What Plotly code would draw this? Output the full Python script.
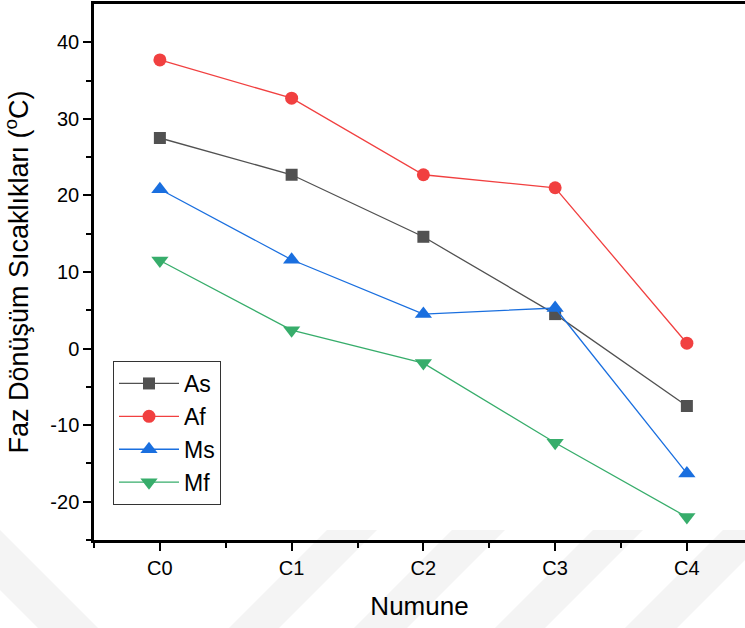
import plotly.graph_objects as go

categories = ["C0", "C1", "C2", "C3", "C4"]
As = [27.5, 22.7, 14.6, 4.5, -7.5]
Af = [37.7, 32.7, 22.7, 21.0, 0.7]
Ms = [20.8, 11.6, 4.5, 5.3, -16.3]
Mf = [11.5, 2.4, -1.9, -12.3, -22.0]
y_ticks = [-20, -10, 0, 10, 20, 30, 40]
y_tick_text = ["-20", "-10", "0", "10", "20", "30", "40"]

series = [
    ("As", As, "#515151", "square", 12),
    ("Af", Af, "#F14040", "circle", 13),
    ("Ms", Ms, "#1A6FDF", "triangle-up", 15),
    ("Mf", Mf, "#37AD6B", "triangle-down", 15),
]

W, H = 745, 628
ML, MR, MT, MB = 94, 0, 4, 88
PW, PH = W - ML - MR, H - MT - MB

fig = go.Figure()
xidx = list(range(len(categories)))
for name, vals, color, sym, sz in series:
    fig.add_trace(go.Scatter(
        x=xidx, y=vals, name=name, mode="lines+markers",
        line=dict(color=color, width=1.3),
        marker=dict(symbol=sym, size=sz, color=color, line=dict(width=0)),
    ))

# faint watermark bands (decorative background)
def px2paper(px, py):
    return (px - ML) / PW, (H - MB - py) / PH

bands = [((-60, 0), -1), ((327, 377), 1), ((452, 505), 1), ((593, 643), 1), ((723, 775), 1)]
shapes = []
for (x0, x1), d in bands:
    ytop, ybot = 530, 650
    shift = -(ybot - ytop) * d
    pts = [(x0, ytop), (x1, ytop), (x1 + shift, ybot), (x0 + shift, ybot)]
    pp = [px2paper(a, b) for a, b in pts]
    path = "M " + " L ".join(f"{a:.4f},{b:.4f}" for a, b in pp) + " Z"
    shapes.append(dict(type="path", xref="paper", yref="paper", path=path,
                       fillcolor="#f4f4f4", line=dict(width=0), layer="below"))

fig.update_layout(
    width=W, height=H,
    margin=dict(l=ML, r=MR, t=MT, b=MB),
    paper_bgcolor="white", plot_bgcolor="rgba(0,0,0,0)",
    font=dict(family="Liberation Sans, Arial, sans-serif", color="black", size=20),
    showlegend=True,
    shapes=shapes,
    legend=dict(
        x=(113 - ML) / PW, y=(H - MB - 361) / PH, xanchor="left", yanchor="top",
        bordercolor="#333", borderwidth=1, bgcolor="white",
        font=dict(size=23), itemwidth=60, tracegroupgap=0,
    ),
)
fig.update_xaxes(
    range=[-0.5, -0.5 + PW / 131.75], tickmode="array", tickvals=xidx, ticktext=categories,
    showline=True, linecolor="black", linewidth=2.5, mirror=True,
    ticks="outside", ticklen=8, tickwidth=2, tickcolor="black",
    minor=dict(tickmode="array", tickvals=[-0.5, 0.5, 1.5, 2.5, 3.5, 4.5], ticks="outside", ticklen=5, tickwidth=2, tickcolor="black"),
    showgrid=False, zeroline=False,
    title=dict(text="Numune", font=dict(size=26), standoff=20),
    tickfont=dict(size=20),
)
fig.update_yaxes(
    range=[-25, 45], tickmode="array", tickvals=y_ticks, ticktext=y_tick_text,
    showline=True, linecolor="black", linewidth=2.5, mirror=False,
    ticks="outside", ticklen=8, tickwidth=2, tickcolor="black",
    minor=dict(tickmode="array", tickvals=[-25, -15, -5, 5, 15, 25, 35], ticks="outside", ticklen=5, tickwidth=2, tickcolor="black"),
    showgrid=False, zeroline=False,
    title=dict(text="Faz Dönüşüm Sıcaklıkları (<sup>o</sup>C)", font=dict(size=27), standoff=18),
    tickfont=dict(size=20),
)
fig.write_html("out.html")
